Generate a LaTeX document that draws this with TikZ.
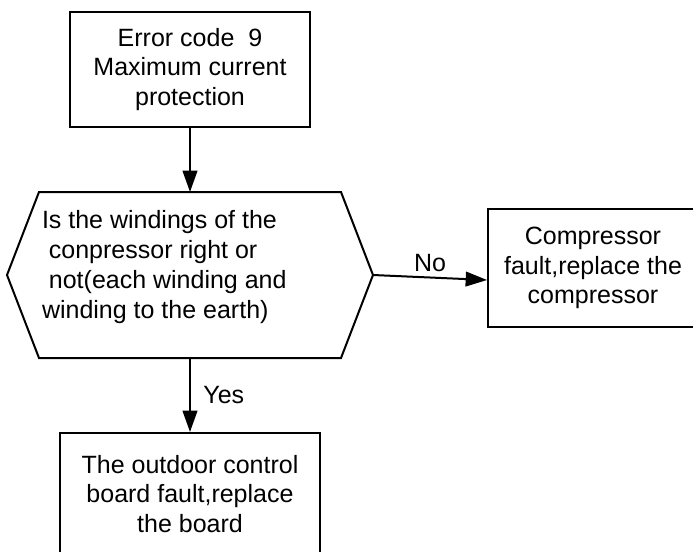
\documentclass[tikz,border=0pt]{standalone}
\usepackage{fontspec}
\setmainfont{Liberation Sans}
\usepackage{tikz}
\usetikzlibrary{positioning,arrows.meta}
\tikzset{
        >={Triangle[length=16pt,width=11pt]}, % filled arrow heads
        box/.style={draw, align=center, inner sep=0pt}, % the rectangles of the chart
}

\begin{document}
\begin{tikzpicture}[x=0.75pt,y=-0.75pt,line width=1.5pt,font=\fontsize{18.75pt}{22pt}\selectfont]
\useasboundingbox (0,0) rectangle (693,551);
\clip (0,0) rectangle (693,551);

\node[box, minimum width=180pt, minimum height=86.25pt] (err) at (190,69.5) {Error code\ \ 9\\Maximum current\\protection};

% the question, a hexagon round an empty node
\node[minimum width=225pt, minimum height=123pt, inner sep=0pt] (hex) at (190,275) {};
\coordinate (hexL) at ([xshift=-24pt]hex.west);
\coordinate (hexR) at ([xshift=24pt]hex.east);
\draw (hex.north west) -- (hex.north east) -- (hexR) -- (hex.south east) -- (hex.south west) -- (hexL) -- cycle;
\node[anchor=west, align=left, inner sep=0pt, font=\fontsize{18.75pt}{22.5pt}\selectfont] (quest) at ([xshift=1.5pt,yshift=6pt]hex.west)
  {Is the windings of the\\\ conpressor right or\\\ not(each winding and\\winding to the earth)};

\node[box, minimum width=157.5pt, minimum height=88.5pt] (fault) at (593,268) {Compressor\\fault,replace the\\compressor};
\node[box, minimum width=195pt, minimum height=91.5pt] (board) at (190,494) {The outdoor control\\board fault,replace\\the board};

\draw[->] (err.south) -- (hex.north);
\draw[->] (hexR) -- ([yshift=-9pt]fault.west) node[midway, above] {No};
\draw[->] (hex.south) -- (board.north) node[midway, right=6pt] {Yes};
\end{tikzpicture}
\end{document}
